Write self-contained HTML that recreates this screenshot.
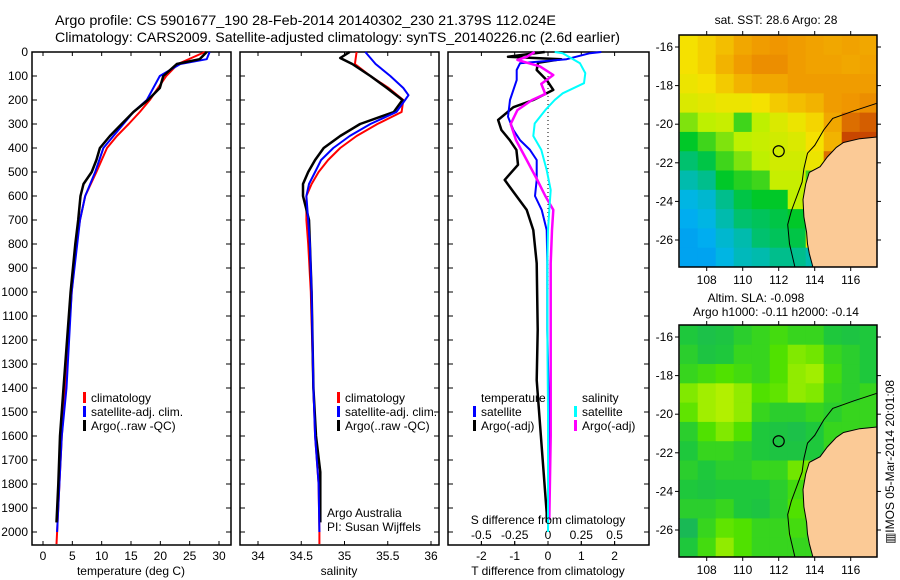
<!DOCTYPE html>
<html><head><meta charset="utf-8"><style>
html,body{margin:0;padding:0;background:#fff;}
svg{display:block;font-family:"Liberation Sans",sans-serif;}
</style></head><body>
<svg id="fig" width="900" height="580" viewBox="0 0 900 580" xmlns="http://www.w3.org/2000/svg">
<text x="55" y="25" font-size="14" textLength="501" lengthAdjust="spacingAndGlyphs">Argo profile: CS 5901677_190 28-Feb-2014 20140302_230 21.379S 112.024E</text>
<text x="55" y="42" font-size="14" textLength="565" lengthAdjust="spacingAndGlyphs">Climatology: CARS2009. Satellite-adjusted climatology: synTS_20140226.nc (2.6d earlier)</text>
<g id="g"></g>
</svg>
<script>
// ---- Temperature panel data (depth m, deg C)
const tClimD=[0,50,100,150,200,250,300,350,400,450,500,600,700,800,1000,1400,1600,1800,2000,2050];
const tClimV=[27.6,23,21,19.6,18.2,16.5,14.6,12.6,10.9,10,9.1,7.2,6.3,5.7,4.9,3.8,3.2,2.8,2.4,2.3];
const tSatD=[0,30,50,100,150,200,250,300,400,500,600,700,1000,1400,1600,1800,2000];
const tSatV=[28.4,27.9,23.4,19.9,18.8,17.7,15.4,13.7,10.3,8.9,7.2,6.3,4.9,4.0,3.2,2.8,2.4];
const tArgoD=[0,30,50,100,150,200,250,300,350,400,450,500,550,600,700,800,1000,1400,1600,1800,1960];
const tArgoV=[27.9,26.7,22.8,20.5,19.9,17.9,15.4,13.4,11.4,9.7,9.1,8.3,6.9,6.4,6.0,5.5,4.7,3.5,2.9,2.6,2.3];
// ---- Salinity panel data
const sClimD=[0,50,100,150,200,250,300,350,400,450,500,550,600,700,800,1000,1400,1600,1800,2000,2050];
const sClimV=[35.14,35.12,35.30,35.51,35.68,35.66,35.38,35.14,34.95,34.81,34.70,34.62,34.56,34.56,34.58,34.61,34.64,34.66,34.70,34.71,34.71];
const sSatD=[0,50,100,150,180,200,250,300,350,400,450,500,550,600,800,1000,1400,1600,1800,2000];
const sSatV=[35.24,35.36,35.53,35.68,35.74,35.70,35.60,35.30,35.06,34.87,34.73,34.66,34.59,34.56,34.60,34.62,34.64,34.66,34.70,34.71];
const sArgoD=[0,25,50,100,150,200,250,300,350,400,450,500,550,600,700,800,1000,1400,1600,1750,1960];
const sArgoV=[35.06,34.95,35.09,35.30,35.49,35.67,35.57,35.18,34.95,34.76,34.66,34.58,34.52,34.52,34.59,34.60,34.62,34.64,34.67,34.72,34.72];
// ---- Difference panel data
const dTArgoD=[0,20,30,45,75,117,158,200,230,283,325,367,408,470,533,583,658,742,880,1158,1367,1645,1921,1960];
const dTArgoV=[-0.1,-1.2,0.4,-0.3,-0.34,-0.04,0.16,-0.44,-1.04,-1.5,-1.4,-1.15,-0.95,-0.9,-1.3,-1.04,-0.64,-0.44,-0.34,-0.31,-0.34,-0.19,-0.04,-0.04];
const dTSatD=[0,5,30,47,75,117,200,270,325,367,408,450,533,600,658,742,880,1158,1500,2000];
const dTSatV=[1.6,1.26,0.56,-0.84,-0.94,-0.94,-1.14,-1.2,-1.04,-0.84,-0.54,-0.34,-0.34,-0.39,-0.19,-0.04,-0.02,-0.02,0.03,0.0];
const dSArgoD=[0,20,33,60,96,133,175,200,242,300,367,450,492,533,600,658,742,880,1200,1600,1950];
const dSArgoV=[-0.1,-0.16,-0.23,-0.06,0.04,-0.05,-0.02,-0.12,-0.23,-0.28,-0.24,-0.16,-0.12,-0.08,-0.02,0.04,0.03,0.02,0.02,0.02,0.01];
const dSSatD=[0,5,47,88,130,172,200,242,298,350,408,492,575,658,742,880,1158,1500,2000];
const dSSatV=[0.05,0.11,0.24,0.28,0.27,0.11,0.05,-0.02,-0.1,-0.11,-0.05,-0.01,0.02,0.01,0.0,-0.005,-0.005,0.0,0.0];
// ---- Ticks
const depthTicks=[0,100,200,300,400,500,600,700,800,900,1000,1100,1200,1300,1400,1500,1600,1700,1800,1900,2000];
const tempTicks=[0,5,10,15,20,25,30];
const salTicks=[34,34.5,35,35.5,36];
const salTickLabels=["34","34.5","35","35.5","36"];
const dTTicks=[-2,-1,0,1,2];
const dSTicks=[-0.5,-0.25,0,0.25,0.5];
const dSTickLabels=["-0.5","-0.25","0","0.25","0.5"];
const lonTicks=[108,110,112,114,116];
const latTicks=[-16,-18,-20,-22,-24,-26];
// ---- Map grids (1-degree cells, lon 106.5..117.5, lat -15.4..-27.4), normalized colour index
const sstGrid=[
[0.72,0.75,0.78,0.82,0.84,0.85,0.84,0.83,0.82,0.83,0.82],
[0.72,0.75,0.80,0.84,0.86,0.86,0.84,0.83,0.83,0.82,0.83],
[0.70,0.72,0.76,0.80,0.82,0.82,0.84,0.84,0.84,0.84,0.84],
[0.66,0.68,0.70,0.70,0.72,0.76,0.78,0.80,0.84,0.85,0.86],
[0.55,0.60,0.62,0.50,0.60,0.66,0.70,0.74,0.82,0.90,0.92],
[0.45,0.50,0.55,0.60,0.62,0.64,0.66,0.72,0.80,0.95,0.95],
[0.38,0.42,0.50,0.55,0.60,0.64,0.64,0.70,0.90,0.9,0.9],
[0.30,0.35,0.45,0.48,0.50,0.62,0.62,0.50,0.5,0.5,0.5],
[0.22,0.25,0.35,0.42,0.45,0.45,0.60,0.45,0.5,0.5,0.5],
[0.18,0.22,0.30,0.38,0.40,0.42,0.45,0.60,0.7,0.5,0.5],
[0.15,0.18,0.25,0.30,0.38,0.40,0.42,0.70,0.8,0.5,0.5],
[0.15,0.15,0.22,0.28,0.30,0.35,0.35,0.30,0.5,0.5,0.5]];
const slaGrid=[
[0.40,0.30,0.35,0.45,0.50,0.55,0.50,0.50,0.40,0.35,0.40],
[0.45,0.35,0.40,0.50,0.50,0.60,0.75,0.70,0.50,0.45,0.40],
[0.50,0.55,0.60,0.55,0.50,0.60,0.80,0.85,0.55,0.45,0.40],
[0.75,0.85,0.90,0.80,0.60,0.65,0.80,0.75,0.50,0.45,0.50],
[0.65,0.85,0.90,0.80,0.50,0.45,0.45,0.50,0.45,0.50,0.50],
[0.45,0.60,0.75,0.60,0.40,0.35,0.30,0.40,0.50,0.50,0.50],
[0.40,0.50,0.50,0.45,0.40,0.35,0.35,0.40,0.50,0.50,0.50],
[0.45,0.40,0.45,0.45,0.50,0.50,0.70,0.75,0.60,0.50,0.50],
[0.40,0.35,0.40,0.40,0.40,0.45,0.55,0.75,0.60,0.50,0.50],
[0.45,0.45,0.50,0.40,0.35,0.45,0.60,0.60,0.50,0.50,0.50],
[0.20,0.50,0.65,0.60,0.50,0.50,0.55,0.50,0.50,0.50,0.50],
[0.40,0.55,0.80,0.60,0.50,0.50,0.50,0.50,0.50,0.50,0.50]];
const coastLon=[117.5,116.5,115.6,115.2,114.7,114.3,113.7,113.5,113.35,113.4,113.55,113.6,113.7,113.9];
const coastLat=[-20.66,-20.75,-20.95,-21.2,-21.7,-22.2,-22.5,-23.1,-23.9,-24.8,-25.6,-26.2,-26.7,-27.4];
const isoLon=[117.5,116.2,115.0,114.5,114.0,113.6,113.4,113.3,112.7,112.5,112.6,112.9];
const isoLat=[-18.9,-19.3,-19.7,-20.3,-21.1,-21.5,-22.3,-23.0,-24.5,-25.2,-26.2,-27.4];
const argoLon=[112.0];
const argoLat=[-21.4];

const NS="http://www.w3.org/2000/svg";
const G=document.getElementById('g');
function el(tag,attrs,parent,txt){const e=document.createElementNS(NS,tag);for(const k in attrs)e.setAttribute(k,attrs[k]);if(txt!==undefined)e.textContent=txt;(parent||G).appendChild(e);return e;}
const yD=d=>52+0.24*d;
const xT=t=>43+5.867*t;
const xS=s=>258+86.5*(s-34);
const xDT=v=>548+33.3*v;
const xDS=v=>548+133.2*v;
const Y0=52,Y1=545;

function panel(x0,x1,name){
  const r=el('rect',{x:x0,y:Y0,width:x1-x0,height:Y1-Y0,fill:'none',stroke:'#000','stroke-width':1.5});
  
  
  depthTicks.forEach(d=>{
    const t1=el('line',{x1:x0,x2:x0+5,y1:yD(d),y2:yD(d),stroke:'#000'});
    
    
    const t2=el('line',{x1:x1-5,x2:x1,y1:yD(d),y2:yD(d),stroke:'#000'});
    
    
  });
}
function line(D,V,fx,color,w,name){
  const pts=D.map((d,i)=>fx(V[i]).toFixed(1)+','+yD(Math.min(d,2054)).toFixed(1)).join(' ');
  const p=el('polyline',{points:pts,fill:'none',stroke:color,'stroke-width':w,'stroke-linejoin':'round'});
  
  
}
function xticks(vals,labels,fx,ylab,name){
  vals.forEach((v,i)=>{
    const a=el('line',{x1:fx(v),x2:fx(v),y1:Y1,y2:Y1-4,stroke:'#000'});
    
    
    const b=el('line',{x1:fx(v),x2:fx(v),y1:Y0,y2:Y0+4,stroke:'#000'});
    
    
    const t=el('text',{x:fx(v),y:ylab,'font-size':12,'text-anchor':'middle'},G,labels[i]);
    
    
  });
}
depthTicks.forEach(d=>{
  const t=el('text',{x:28,y:yD(d)+4,'font-size':12,'text-anchor':'end'},G,String(d));
  
  
});
panel(32,231,'temperature-panel');
xticks(tempTicks,tempTicks.map(String),xT,560,'temperature');
line(tClimD,tClimV,xT,'#f00',2,'temperature-climatology-line');
line(tSatD,tSatV,xT,'#00f',2,'temperature-satellite-line');
line(tArgoD,tArgoV,xT,'#000',2.5,'temperature-argo-line');
panel(240,439,'salinity-panel');
xticks(salTicks,salTickLabels,xS,560,'salinity');
line(sClimD,sClimV,xS,'#f00',2,'salinity-climatology-line');
line(sArgoD,sArgoV,xS,'#000',2.5,'salinity-argo-line');
line(sSatD,sSatV,xS,'#00f',2,'salinity-satellite-line');
panel(448,649,'difference-panel');
xticks(dTTicks,dTTicks.map(String),xDT,560,'t-difference');
dSTicks.forEach((v,i)=>{
  const a=el('line',{x1:xDS(v),x2:xDS(v),y1:541,y2:545,stroke:'#000'});
  
  
  const t=el('text',{x:xDS(v),y:539,'font-size':12,'text-anchor':'middle'},G,dSTickLabels[i]);
  
  
});
const zl=el('line',{x1:548,x2:548,y1:yD(100),y2:yD(1000),stroke:'#000','stroke-dasharray':'1,3'});


line(dTArgoD,dTArgoV,xDT,'#000',2.5,'t-difference-argo-line');
line(dTSatD,dTSatV,xDT,'#00f',2,'t-difference-satellite-line');
line(dSArgoD,dSArgoV,xDS,'#f0f',2.5,'s-difference-argo-line');
line(dSSatD,dSSatV,xDS,'#0ff',2,'s-difference-satellite-line');
[[131,575,'temperature (deg C)','temperature-axis-title'],[339,575,'salinity','salinity-axis-title'],[548,575,'T difference from climatology','t-difference-axis-title'],[548,524,'S difference from climatology','s-difference-axis-title']].forEach(a=>{
  const t=el('text',{x:a[0],y:a[1],'font-size':12,'text-anchor':'middle'},G,a[2]);
  
  
});
function leg(x,y,color,label,name){
  if(color){const b=el('rect',{x:x-8,y:y-10,width:3,height:11,fill:color});
    
    }
  const t=el('text',{x:x,y:y,'font-size':12},G,label);
  
  
}
leg(91,402,'#f00','climatology','legend-t-climatology');
leg(91,416,'#00f','satellite-adj. clim.','legend-t-satellite');
leg(91,430,'#000','Argo(..raw -QC)','legend-t-argo');
leg(345,402,'#f00','climatology','legend-s-climatology');
leg(345,416,'#00f','satellite-adj. clim.','legend-s-satellite');
leg(345,430,'#000','Argo(..raw -QC)','legend-s-argo');
leg(327,517,null,'Argo Australia','credit-argo-australia');
leg(327,531,null,'PI: Susan Wijffels','credit-pi');
leg(481,402,null,'temperature','legend-temperature-header');
leg(481,416,'#00f','satellite','legend-dt-satellite');
leg(481,430,'#000','Argo(-adj)','legend-dt-argo');
leg(582,402,null,'salinity','legend-salinity-header');
leg(582,416,'#0ff','satellite','legend-ds-satellite');
leg(582,430,'#f0f','Argo(-adj)','legend-ds-argo');

function lerpC(stops,v){
  v=Math.max(0,Math.min(1,v));
  for(let i=0;i<stops.length-1;i++){const a=stops[i],b=stops[i+1];
    if(v<=b[0]){const f=(v-a[0])/(b[0]-a[0]);
      return 'rgb('+[1,2,3].map(k=>Math.round(a[k]+(b[k]-a[k])*f)).join(',')+')';}}
  const l=stops[stops.length-1];return 'rgb('+l[1]+','+l[2]+','+l[3]+')';
}
const sstStops=[[0,0,110,240],[0.2,0,180,240],[0.35,0,190,140],[0.45,0,200,40],[0.6,190,240,0],[0.72,245,225,0],[0.85,240,150,0],[1,180,30,0]];
const slaStops=[[0,20,170,110],[0.4,30,200,60],[0.6,80,225,0],[1,210,245,0]];
function map(top,grid,stops,name,title1,title2){
  const X0=679,X1=877,Y1m=top+232;
  const mx=lon=>706.7+18*(lon-108);
  const my=lat=>top+12+19.3*(-16-lat);
  const g=el('g',{});
  
  
  const cp=el('clipPath',{id:name+'-clip'},g);
  el('rect',{x:X0,y:top,width:X1-X0,height:232},cp);
  const cg=el('g',{'clip-path':'url(#'+name+'-clip)'},g);
  grid.forEach((row,r)=>row.forEach((v,c)=>{
    const lon=106.5+c,lat=-15.4-r;
    const cell=el('rect',{x:mx(lon),y:my(lat),width:18.6,height:19.9,fill:lerpC(stops,v)},cg);
    
    
  }));
  const lp=coastLon.map((lo,i)=>mx(lo).toFixed(1)+','+my(coastLat[i]).toFixed(1));
  lp.push(mx(118)+','+my(-28));lp.push(mx(118)+','+my(-20));
  const land=el('polygon',{points:lp.join(' '),fill:'#fbca96',stroke:'#000','stroke-width':1},cg);
  
  
  const iso=el('polyline',{points:isoLon.map((lo,i)=>mx(lo).toFixed(1)+','+my(isoLat[i]).toFixed(1)).join(' '),fill:'none',stroke:'#000','stroke-width':1},cg);
  
  
  argoLon.forEach((lo,i)=>{
    const c=el('circle',{cx:mx(lo),cy:my(argoLat[i]),r:5.5,fill:'none',stroke:'#000','stroke-width':1.2},g);
    
    
  });
  const fr=el('rect',{x:X0,y:top,width:X1-X0,height:232,fill:'none',stroke:'#000','stroke-width':1.5},g);
  
  
  lonTicks.forEach(lo=>{
    el('line',{x1:mx(lo),x2:mx(lo),y1:top,y2:top-4,stroke:'#000'},g);
    el('line',{x1:mx(lo),x2:mx(lo),y1:Y1m,y2:Y1m+4,stroke:'#000'},g);
    const t=el('text',{x:mx(lo),y:Y1m+17,'font-size':12,'text-anchor':'middle'},g,String(lo));
    
    
  });
  latTicks.forEach(la=>{
    el('line',{x1:X0,x2:X0-4,y1:my(la),y2:my(la),stroke:'#000'},g);
    el('line',{x1:X1,x2:X1+4,y1:my(la),y2:my(la),stroke:'#000'},g);
    const t=el('text',{x:673,y:my(la)+4,'font-size':12,'text-anchor':'end'},g,String(la));
    
    
  });
  if(title1){const t=el('text',{x:title1[1],y:title1[2],'font-size':12,'text-anchor':'middle'},g,title1[0]);
    
    }
  if(title2){const t=el('text',{x:title2[1],y:title2[2],'font-size':12,'text-anchor':'middle'},g,title2[0]);
    
    }
}
map(35,sstGrid,sstStops,'sst-map',['sat. SST: 28.6 Argo: 28',776,24],null);
map(325,slaGrid,slaStops,'sla-map',['Altim. SLA: -0.098',756,302],['Argo h1000: -0.11 h2000: -0.14',776,316]);
const ts=el('text',{x:0,y:0,'font-size':12,'text-anchor':'middle',transform:'translate(894,462) rotate(-90)'},G,'\u25A5IMOS 05-Mar-2014 20:01:08');


</script>
</body></html>
